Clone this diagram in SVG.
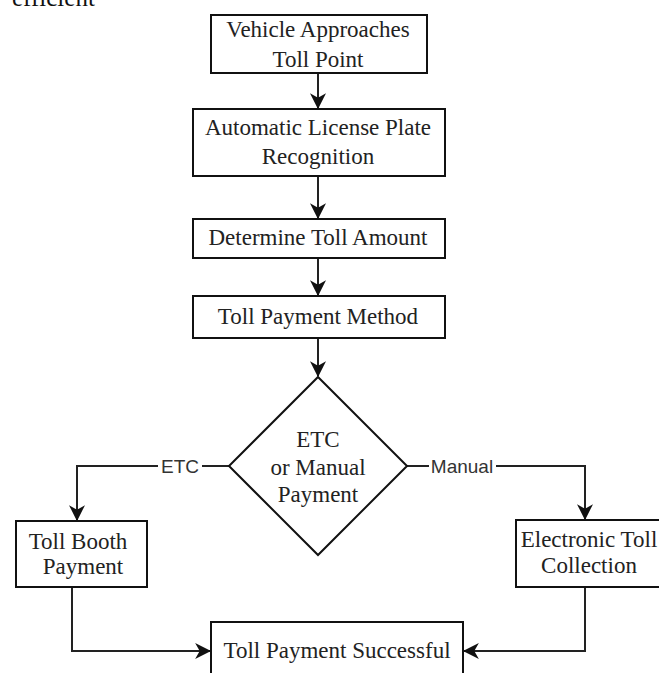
<svg xmlns="http://www.w3.org/2000/svg" width="659" height="673" viewBox="0 0 659 673">
<style>
.box{fill:#fff;stroke:#111;stroke-width:2}
.t{font-family:"Liberation Serif","Times New Roman",serif;font-size:23px;fill:#222;text-anchor:middle}
.lbl{font-family:"Liberation Sans",Arial,sans-serif;font-size:19px;fill:#333;text-anchor:middle}
.c{fill:none;stroke:#222;stroke-width:2}
</style>
<defs>
<marker id="ah" markerUnits="userSpaceOnUse" markerWidth="16" markerHeight="16" viewBox="0 0 14 14" refX="13" refY="7" orient="auto">
<path d="M0,0 L14,7 L0,14 L4,7 z" fill="#111"/>
</marker>
</defs>
<rect width="659" height="673" fill="#fff"/>
<text x="12" y="6" font-family="Liberation Serif,serif" font-size="25" fill="#111">efficient</text>
<g id="connectors">
<path class="c" d="M318,73 V108" marker-end="url(#ah)"/>
<path class="c" d="M318,176 V218" marker-end="url(#ah)"/>
<path class="c" d="M318,258 V295" marker-end="url(#ah)"/>
<path class="c" d="M318,338 V376" marker-end="url(#ah)"/>
<path class="c" d="M229,466 H77 V520" marker-end="url(#ah)"/>
<path class="c" d="M407,466 H585 V519" marker-end="url(#ah)"/>
<path class="c" d="M72,587 V651 H210" marker-end="url(#ah)"/>
<path class="c" d="M585,587 V651 H464" marker-end="url(#ah)"/>
<rect x="158" y="456" width="44" height="20" fill="#fff"/>
<text class="lbl" x="180" y="473">ETC</text>
<rect x="429" y="456" width="67" height="20" fill="#fff"/>
<text class="lbl" x="462" y="473">Manual</text>
</g>
<g id="n1"><rect class="box" x="211" y="15" width="216" height="58"/>
<text class="t" x="318" y="37">Vehicle Approaches</text><text class="t" x="318" y="67">Toll Point</text></g>
<g id="n2"><rect class="box" x="193" y="109" width="252" height="67"/>
<text class="t" x="318" y="135">Automatic License Plate</text><text class="t" x="318" y="164">Recognition</text></g>
<g id="n3"><rect class="box" x="193" y="219" width="252" height="39"/>
<text class="t" x="318" y="245">Determine Toll Amount</text></g>
<g id="n4"><rect class="box" x="193" y="296" width="252" height="42"/>
<text class="t" x="318" y="324">Toll Payment Method</text></g>
<g id="n5"><polygon class="box" points="318,377 407,466 318,555 229,466"/>
<text class="t" x="318" y="447">ETC</text><text class="t" x="318" y="475">or Manual</text><text class="t" x="318" y="502">Payment</text></g>
<g id="n6"><rect class="box" x="16" y="521" width="131" height="66"/>
<text class="t" x="78" y="549">Toll Booth</text><text class="t" x="83" y="574">Payment</text></g>
<g id="n7"><rect class="box" x="516" y="520" width="146" height="67"/>
<text class="t" x="589" y="547">Electronic Toll</text><text class="t" x="589" y="573">Collection</text></g>
<g id="n8"><rect class="box" x="211" y="622" width="252" height="60"/>
<text class="t" x="337" y="658">Toll Payment Successful</text></g>
</svg>
